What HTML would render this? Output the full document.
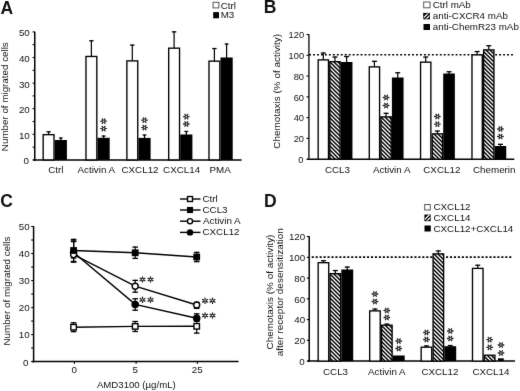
<!DOCTYPE html>
<html><head><meta charset="utf-8"><style>
html,body{margin:0;padding:0;background:#fff;width:520px;height:391px;overflow:hidden;}
svg{display:block;}
text{font-family:"Liberation Sans", sans-serif;fill:#111;stroke:none;}
</style></head><body>
<svg width="520" height="391" viewBox="0 0 520 391">
<defs>
<filter id="bl" filterUnits="userSpaceOnUse" x="0" y="0" width="520" height="391" color-interpolation-filters="sRGB"><feConvolveMatrix order="3" kernelMatrix="0.00524 0.06192 0.00524 0.06192 0.73137 0.06192 0.00524 0.06192 0.00524" edgeMode="duplicate" preserveAlpha="true"/></filter>
<pattern id="hatch" patternUnits="userSpaceOnUse" width="4" height="4">
<rect width="4" height="4" fill="#fff"/>
<path d="M-1,-1 L5,5 M-1,3 L1,5 M3,-1 L5,1" stroke="#000" stroke-width="1.45"/>
</pattern>
<pattern id="hatchL" patternUnits="userSpaceOnUse" width="3.2" height="3.2">
<rect width="3.2" height="3.2" fill="#000"/>
<path d="M-1,4.2 L4.2,-1 M-1,1 L1,-1 M2.2,4.2 L4.2,2.2" stroke="#fff" stroke-width="1.1"/>
</pattern>
</defs>
<g filter="url(#bl)">
<rect width="520" height="391" fill="#fff"/>
<text x="0.50" y="14.20" font-size="17.5" font-weight="bold">A</text>
<line x1="34.75" y1="31.70" x2="34.75" y2="160.65" stroke="#000" stroke-width="1.5" />
<line x1="33.15" y1="159.90" x2="241.60" y2="159.90" stroke="#000" stroke-width="1.5" />
<line x1="32.55" y1="159.90" x2="34.75" y2="159.90" stroke="#000" stroke-width="1.1" />
<line x1="32.55" y1="147.10" x2="34.75" y2="147.10" stroke="#000" stroke-width="1.1" />
<line x1="32.55" y1="134.30" x2="34.75" y2="134.30" stroke="#000" stroke-width="1.1" />
<line x1="32.55" y1="121.50" x2="34.75" y2="121.50" stroke="#000" stroke-width="1.1" />
<line x1="32.55" y1="108.70" x2="34.75" y2="108.70" stroke="#000" stroke-width="1.1" />
<line x1="32.55" y1="95.90" x2="34.75" y2="95.90" stroke="#000" stroke-width="1.1" />
<line x1="32.55" y1="83.10" x2="34.75" y2="83.10" stroke="#000" stroke-width="1.1" />
<line x1="32.55" y1="70.30" x2="34.75" y2="70.30" stroke="#000" stroke-width="1.1" />
<line x1="32.55" y1="57.50" x2="34.75" y2="57.50" stroke="#000" stroke-width="1.1" />
<line x1="32.55" y1="44.70" x2="34.75" y2="44.70" stroke="#000" stroke-width="1.1" />
<line x1="32.55" y1="31.90" x2="34.75" y2="31.90" stroke="#000" stroke-width="1.1" />
<text x="23.50" y="164.40" font-size="9.8" font-weight="normal">0</text>
<text x="18.90" y="138.80" font-size="9.8" font-weight="normal">10</text>
<text x="18.90" y="113.20" font-size="9.8" font-weight="normal">20</text>
<text x="18.90" y="87.60" font-size="9.8" font-weight="normal">30</text>
<text x="18.90" y="62.00" font-size="9.8" font-weight="normal">40</text>
<text x="18.90" y="36.40" font-size="9.8" font-weight="normal">50</text>
<text transform="translate(8.20,96.50) rotate(-90)" x="-54.65" y="0" font-size="9.8">Number of migrated cells</text>
<rect x="43.17" y="134.68" width="10.85" height="25.23" fill="#fff" stroke="#000" stroke-width="1.35"/>
<line x1="48.60" y1="134.50" x2="48.60" y2="131.30" stroke="#000" stroke-width="1.2" />
<line x1="46.40" y1="131.85" x2="50.80" y2="131.85" stroke="#000" stroke-width="1.3" />
<rect x="54.70" y="140.00" width="12.20" height="19.90" fill="#000"/>
<line x1="60.80" y1="140.50" x2="60.80" y2="137.50" stroke="#000" stroke-width="1.2" />
<line x1="58.90" y1="138.05" x2="62.70" y2="138.05" stroke="#000" stroke-width="1.3" />
<rect x="85.97" y="56.47" width="10.85" height="103.43" fill="#fff" stroke="#000" stroke-width="1.35"/>
<line x1="91.40" y1="56.30" x2="91.40" y2="40.20" stroke="#000" stroke-width="1.2" />
<line x1="89.20" y1="40.75" x2="93.60" y2="40.75" stroke="#000" stroke-width="1.3" />
<rect x="97.50" y="137.80" width="12.20" height="22.10" fill="#000"/>
<line x1="103.60" y1="138.30" x2="103.60" y2="135.50" stroke="#000" stroke-width="1.2" />
<line x1="101.70" y1="136.05" x2="105.50" y2="136.05" stroke="#000" stroke-width="1.3" />
<path d="M104.90,121.20L106.40,121.20M104.25,122.24L105.00,123.43M102.95,122.24L102.20,123.43M102.30,121.20L100.80,121.20M102.95,120.16L102.20,118.97M104.25,120.16L105.00,118.97" stroke="#1e1e1e" stroke-width="1.3" stroke-linecap="round" fill="none"/>
<path d="M104.90,128.60L106.40,128.60M104.25,129.64L105.00,130.83M102.95,129.64L102.20,130.83M102.30,128.60L100.80,128.60M102.95,127.56L102.20,126.37M104.25,127.56L105.00,126.37" stroke="#1e1e1e" stroke-width="1.3" stroke-linecap="round" fill="none"/>
<rect x="126.88" y="60.88" width="10.85" height="99.03" fill="#fff" stroke="#000" stroke-width="1.35"/>
<line x1="132.30" y1="60.70" x2="132.30" y2="44.60" stroke="#000" stroke-width="1.2" />
<line x1="130.10" y1="45.15" x2="134.50" y2="45.15" stroke="#000" stroke-width="1.3" />
<rect x="138.40" y="137.90" width="12.20" height="22.00" fill="#000"/>
<line x1="144.50" y1="138.40" x2="144.50" y2="134.50" stroke="#000" stroke-width="1.2" />
<line x1="142.60" y1="135.05" x2="146.40" y2="135.05" stroke="#000" stroke-width="1.3" />
<path d="M145.80,120.20L147.30,120.20M145.15,121.24L145.90,122.43M143.85,121.24L143.10,122.43M143.20,120.20L141.70,120.20M143.85,119.16L143.10,117.97M145.15,119.16L145.90,117.97" stroke="#1e1e1e" stroke-width="1.3" stroke-linecap="round" fill="none"/>
<path d="M145.80,127.60L147.30,127.60M145.15,128.64L145.90,129.83M143.85,128.64L143.10,129.83M143.20,127.60L141.70,127.60M143.85,126.56L143.10,125.37M145.15,126.56L145.90,125.37" stroke="#1e1e1e" stroke-width="1.3" stroke-linecap="round" fill="none"/>
<rect x="168.68" y="48.17" width="10.85" height="111.73" fill="#fff" stroke="#000" stroke-width="1.35"/>
<line x1="174.10" y1="48.00" x2="174.10" y2="31.30" stroke="#000" stroke-width="1.2" />
<line x1="171.90" y1="31.85" x2="176.30" y2="31.85" stroke="#000" stroke-width="1.3" />
<rect x="180.20" y="134.50" width="12.20" height="25.40" fill="#000"/>
<line x1="186.30" y1="135.00" x2="186.30" y2="130.90" stroke="#000" stroke-width="1.2" />
<line x1="184.40" y1="131.45" x2="188.20" y2="131.45" stroke="#000" stroke-width="1.3" />
<path d="M187.60,116.60L189.10,116.60M186.95,117.64L187.70,118.83M185.65,117.64L184.90,118.83M185.00,116.60L183.50,116.60M185.65,115.56L184.90,114.37M186.95,115.56L187.70,114.37" stroke="#1e1e1e" stroke-width="1.3" stroke-linecap="round" fill="none"/>
<path d="M187.60,124.00L189.10,124.00M186.95,125.04L187.70,126.23M185.65,125.04L184.90,126.23M185.00,124.00L183.50,124.00M185.65,122.96L184.90,121.77M186.95,122.96L187.70,121.77" stroke="#1e1e1e" stroke-width="1.3" stroke-linecap="round" fill="none"/>
<rect x="208.98" y="61.17" width="10.85" height="98.73" fill="#fff" stroke="#000" stroke-width="1.35"/>
<line x1="214.40" y1="61.00" x2="214.40" y2="48.00" stroke="#000" stroke-width="1.2" />
<line x1="212.20" y1="48.55" x2="216.60" y2="48.55" stroke="#000" stroke-width="1.3" />
<rect x="220.50" y="57.50" width="12.20" height="102.40" fill="#000"/>
<line x1="226.60" y1="58.00" x2="226.60" y2="43.50" stroke="#000" stroke-width="1.2" />
<line x1="224.70" y1="44.05" x2="228.50" y2="44.05" stroke="#000" stroke-width="1.3" />
<text x="48.20" y="172.90" font-size="9.8" font-weight="normal">Ctrl</text>
<text x="77.50" y="172.90" font-size="9.8" font-weight="normal">Activin A</text>
<text x="121.50" y="172.90" font-size="9.8" font-weight="normal">CXCL12</text>
<text x="163.10" y="172.90" font-size="9.8" font-weight="normal">CXCL14</text>
<text x="209.50" y="173.00" font-size="9.8" font-weight="normal">PMA</text>
<rect x="213.1" y="2.3" width="5.8" height="5.6" fill="#fff" stroke="#555" stroke-width="1"/>
<text x="220.80" y="8.70" font-size="9.8" font-weight="normal">Ctrl</text>
<rect x="213.2" y="12.1" width="5.8" height="6.2" fill="#000"/>
<text x="220.70" y="18.40" font-size="9.8" font-weight="normal">M3</text>
<text x="263.70" y="12.70" font-size="17.5" font-weight="bold">B</text>
<line x1="308.90" y1="34.22" x2="308.90" y2="158.50" stroke="#4a4a4a" stroke-width="1.8" />
<line x1="307.20" y1="159.20" x2="514.30" y2="159.20" stroke="#000" stroke-width="1.5" />
<line x1="306.50" y1="159.20" x2="308.90" y2="159.20" stroke="#000" stroke-width="1.1" />
<text x="298.20" y="163.00" font-size="9.3" font-weight="normal">0</text>
<line x1="306.50" y1="138.42" x2="308.90" y2="138.42" stroke="#000" stroke-width="1.1" />
<text x="293.70" y="142.22" font-size="9.3" font-weight="normal">20</text>
<line x1="306.50" y1="117.64" x2="308.90" y2="117.64" stroke="#000" stroke-width="1.1" />
<text x="293.70" y="121.44" font-size="9.3" font-weight="normal">40</text>
<line x1="306.50" y1="96.86" x2="308.90" y2="96.86" stroke="#000" stroke-width="1.1" />
<text x="293.70" y="100.66" font-size="9.3" font-weight="normal">60</text>
<line x1="306.50" y1="76.08" x2="308.90" y2="76.08" stroke="#000" stroke-width="1.1" />
<text x="293.70" y="79.88" font-size="9.3" font-weight="normal">80</text>
<line x1="306.50" y1="55.30" x2="308.90" y2="55.30" stroke="#000" stroke-width="1.1" />
<text x="288.60" y="59.10" font-size="9.3" font-weight="normal">100</text>
<line x1="306.50" y1="34.52" x2="308.90" y2="34.52" stroke="#000" stroke-width="1.1" />
<text x="288.60" y="38.32" font-size="9.3" font-weight="normal">120</text>
<line x1="309.10" y1="54.80" x2="514.00" y2="54.80" stroke="#000" stroke-width="1.5" stroke-dasharray="1.9,2.06"/>
<text transform="translate(280.20,91.00) rotate(-90)" x="-57.75" y="0" font-size="9.95">Chemotaxis (% of activity)</text>
<rect x="318.18" y="59.88" width="10.30" height="99.32" fill="#fff" stroke="#000" stroke-width="1.35"/>
<line x1="323.32" y1="59.70" x2="323.32" y2="52.50" stroke="#000" stroke-width="1.2" />
<line x1="320.82" y1="53.05" x2="325.82" y2="53.05" stroke="#000" stroke-width="1.3" />
<rect x="329.82" y="61.67" width="10.30" height="97.52" fill="url(#hatch)" stroke="#000" stroke-width="1.35"/>
<line x1="334.97" y1="61.50" x2="334.97" y2="56.50" stroke="#000" stroke-width="1.2" />
<line x1="332.47" y1="57.05" x2="337.47" y2="57.05" stroke="#000" stroke-width="1.3" />
<rect x="340.80" y="62.00" width="11.65" height="97.20" fill="#000"/>
<line x1="346.62" y1="62.50" x2="346.62" y2="56.00" stroke="#000" stroke-width="1.2" />
<line x1="344.12" y1="56.55" x2="349.12" y2="56.55" stroke="#000" stroke-width="1.3" />
<rect x="369.28" y="66.88" width="10.30" height="92.32" fill="#fff" stroke="#000" stroke-width="1.35"/>
<line x1="374.43" y1="66.70" x2="374.43" y2="60.80" stroke="#000" stroke-width="1.2" />
<line x1="371.93" y1="61.35" x2="376.93" y2="61.35" stroke="#000" stroke-width="1.3" />
<rect x="380.93" y="116.88" width="10.30" height="42.32" fill="url(#hatch)" stroke="#000" stroke-width="1.35"/>
<line x1="386.07" y1="116.70" x2="386.07" y2="112.80" stroke="#000" stroke-width="1.2" />
<line x1="383.57" y1="113.35" x2="388.57" y2="113.35" stroke="#000" stroke-width="1.3" />
<path d="M387.38,97.50L388.88,97.50M386.72,98.54L387.47,99.73M385.43,98.54L384.68,99.73M384.77,97.50L383.27,97.50M385.43,96.46L384.68,95.27M386.72,96.46L387.47,95.27" stroke="#1e1e1e" stroke-width="1.3" stroke-linecap="round" fill="none"/>
<path d="M387.38,105.50L388.88,105.50M386.72,106.54L387.47,107.73M385.43,106.54L384.68,107.73M384.77,105.50L383.27,105.50M385.43,104.46L384.68,103.27M386.72,104.46L387.47,103.27" stroke="#1e1e1e" stroke-width="1.3" stroke-linecap="round" fill="none"/>
<rect x="391.90" y="77.50" width="11.65" height="81.70" fill="#000"/>
<line x1="397.73" y1="78.00" x2="397.73" y2="72.20" stroke="#000" stroke-width="1.2" />
<line x1="395.23" y1="72.75" x2="400.23" y2="72.75" stroke="#000" stroke-width="1.3" />
<rect x="420.57" y="62.17" width="10.30" height="97.02" fill="#fff" stroke="#000" stroke-width="1.35"/>
<line x1="425.72" y1="62.00" x2="425.72" y2="56.50" stroke="#000" stroke-width="1.2" />
<line x1="423.22" y1="57.05" x2="428.22" y2="57.05" stroke="#000" stroke-width="1.3" />
<rect x="432.22" y="133.88" width="10.30" height="25.32" fill="url(#hatch)" stroke="#000" stroke-width="1.35"/>
<line x1="437.37" y1="133.70" x2="437.37" y2="130.50" stroke="#000" stroke-width="1.2" />
<line x1="434.87" y1="131.05" x2="439.87" y2="131.05" stroke="#000" stroke-width="1.3" />
<path d="M438.67,116.50L440.17,116.50M438.02,117.54L438.77,118.73M436.72,117.54L435.97,118.73M436.07,116.50L434.57,116.50M436.72,115.46L435.97,114.27M438.02,115.46L438.77,114.27" stroke="#1e1e1e" stroke-width="1.3" stroke-linecap="round" fill="none"/>
<path d="M438.67,124.20L440.17,124.20M438.02,125.24L438.77,126.43M436.72,125.24L435.97,126.43M436.07,124.20L434.57,124.20M436.72,123.16L435.97,121.97M438.02,123.16L438.77,121.97" stroke="#1e1e1e" stroke-width="1.3" stroke-linecap="round" fill="none"/>
<rect x="443.20" y="73.50" width="11.65" height="85.70" fill="#000"/>
<line x1="449.02" y1="74.00" x2="449.02" y2="71.20" stroke="#000" stroke-width="1.2" />
<line x1="446.52" y1="71.75" x2="451.52" y2="71.75" stroke="#000" stroke-width="1.3" />
<rect x="471.98" y="54.88" width="10.30" height="104.32" fill="#fff" stroke="#000" stroke-width="1.35"/>
<line x1="477.12" y1="54.70" x2="477.12" y2="51.00" stroke="#000" stroke-width="1.2" />
<line x1="474.62" y1="51.55" x2="479.62" y2="51.55" stroke="#000" stroke-width="1.3" />
<rect x="483.62" y="49.88" width="10.30" height="109.32" fill="url(#hatch)" stroke="#000" stroke-width="1.35"/>
<line x1="488.77" y1="49.70" x2="488.77" y2="45.20" stroke="#000" stroke-width="1.2" />
<line x1="486.27" y1="45.75" x2="491.27" y2="45.75" stroke="#000" stroke-width="1.3" />
<rect x="494.60" y="146.00" width="11.65" height="13.20" fill="#000"/>
<line x1="500.43" y1="146.50" x2="500.43" y2="143.80" stroke="#000" stroke-width="1.2" />
<line x1="497.93" y1="144.35" x2="502.93" y2="144.35" stroke="#000" stroke-width="1.3" />
<path d="M501.73,129.00L503.23,129.00M501.07,130.04L501.82,131.23M499.78,130.04L499.03,131.23M499.12,129.00L497.62,129.00M499.78,127.96L499.03,126.77M501.07,127.96L501.82,126.77" stroke="#1e1e1e" stroke-width="1.3" stroke-linecap="round" fill="none"/>
<path d="M501.73,136.50L503.23,136.50M501.07,137.54L501.82,138.73M499.78,137.54L499.03,138.73M499.12,136.50L497.62,136.50M499.78,135.46L499.03,134.27M501.07,135.46L501.82,134.27" stroke="#1e1e1e" stroke-width="1.3" stroke-linecap="round" fill="none"/>
<text x="324.90" y="173.20" font-size="9.8" font-weight="normal">CCL3</text>
<text x="372.90" y="173.20" font-size="9.8" font-weight="normal">Activin A</text>
<text x="423.30" y="173.20" font-size="9.8" font-weight="normal">CXCL12</text>
<text x="473.00" y="173.20" font-size="9.8" font-weight="normal">Chemerin</text>
<rect x="423.7" y="2.0" width="6.3" height="5.8" fill="#fff" stroke="#555" stroke-width="1"/>
<text x="432.70" y="7.90" font-size="9.8" font-weight="normal">Ctrl mAb</text>
<rect x="423.20" y="12.90" width="6.70" height="6.40" fill="#000"/>
<clipPath id="c4232129"><rect x="423.70" y="13.40" width="5.70" height="5.40"/></clipPath>
<path d="M421.02,20.30L429.42,11.90M424.76,20.30L433.16,11.90" stroke="#fff" stroke-width="1.25" clip-path="url(#c4232129)"/>
<text x="432.80" y="18.90" font-size="9.8" font-weight="normal">anti-CXCR4 mAb</text>
<rect x="423.5" y="24.0" width="6.5" height="6.0" fill="#000"/>
<text x="432.80" y="29.80" font-size="9.8" font-weight="normal">anti-ChemR23 mAb</text>
<text x="0.20" y="207.00" font-size="17.5" font-weight="bold">C</text>
<line x1="33.60" y1="226.20" x2="33.60" y2="362.35" stroke="#000" stroke-width="1.5" />
<line x1="31.80" y1="361.60" x2="238.60" y2="361.60" stroke="#000" stroke-width="1.5" />
<line x1="31.20" y1="361.60" x2="33.60" y2="361.60" stroke="#000" stroke-width="1.1" />
<line x1="31.20" y1="348.09" x2="33.60" y2="348.09" stroke="#000" stroke-width="1.1" />
<line x1="31.20" y1="334.58" x2="33.60" y2="334.58" stroke="#000" stroke-width="1.1" />
<line x1="31.20" y1="321.07" x2="33.60" y2="321.07" stroke="#000" stroke-width="1.1" />
<line x1="31.20" y1="307.56" x2="33.60" y2="307.56" stroke="#000" stroke-width="1.1" />
<line x1="31.20" y1="294.05" x2="33.60" y2="294.05" stroke="#000" stroke-width="1.1" />
<line x1="31.20" y1="280.54" x2="33.60" y2="280.54" stroke="#000" stroke-width="1.1" />
<line x1="31.20" y1="267.03" x2="33.60" y2="267.03" stroke="#000" stroke-width="1.1" />
<line x1="31.20" y1="253.52" x2="33.60" y2="253.52" stroke="#000" stroke-width="1.1" />
<line x1="31.20" y1="240.01" x2="33.60" y2="240.01" stroke="#000" stroke-width="1.1" />
<line x1="31.20" y1="226.50" x2="33.60" y2="226.50" stroke="#000" stroke-width="1.1" />
<text x="23.10" y="365.50" font-size="9.8" font-weight="normal">0</text>
<text x="18.70" y="338.48" font-size="9.8" font-weight="normal">10</text>
<text x="18.70" y="311.46" font-size="9.8" font-weight="normal">20</text>
<text x="18.70" y="284.44" font-size="9.8" font-weight="normal">30</text>
<text x="18.70" y="257.42" font-size="9.8" font-weight="normal">40</text>
<text x="18.70" y="230.40" font-size="9.8" font-weight="normal">50</text>
<text transform="translate(10.30,290.90) rotate(-90)" x="-54.65" y="0" font-size="9.8">Number of migrated cells</text>
<line x1="74.40" y1="361.60" x2="74.40" y2="363.80" stroke="#000" stroke-width="1.2" />
<text x="71.45" y="373.40" font-size="9.8" font-weight="normal">0</text>
<line x1="136.10" y1="361.60" x2="136.10" y2="363.80" stroke="#000" stroke-width="1.2" />
<text x="132.40" y="373.40" font-size="9.8" font-weight="normal">5</text>
<line x1="197.40" y1="361.60" x2="197.40" y2="363.80" stroke="#000" stroke-width="1.2" />
<text x="191.70" y="373.40" font-size="9.8" font-weight="normal">25</text>
<text x="96.90" y="387.80" font-size="9.65" font-weight="normal">AMD3100 (µg/mL)</text>
<polyline points="73.60,327.20 135.20,326.40 196.70,326.30" fill="none" stroke="#000" stroke-width="1.45"/>
<polyline points="73.60,250.50 135.20,252.80 196.70,257.00" fill="none" stroke="#000" stroke-width="1.45"/>
<polyline points="73.60,254.60 135.20,286.20 196.70,305.00" fill="none" stroke="#000" stroke-width="1.45"/>
<polyline points="73.60,252.50 135.20,304.40 196.70,318.20" fill="none" stroke="#000" stroke-width="1.45"/>
<line x1="73.60" y1="322.20" x2="73.60" y2="332.20" stroke="#000" stroke-width="1.2" />
<line x1="135.20" y1="320.90" x2="135.20" y2="332.10" stroke="#000" stroke-width="1.2" />
<line x1="196.70" y1="320.60" x2="196.70" y2="333.70" stroke="#000" stroke-width="1.2" />
<line x1="73.60" y1="238.80" x2="73.60" y2="262.80" stroke="#000" stroke-width="1.2" />
<line x1="135.20" y1="246.50" x2="135.20" y2="259.00" stroke="#000" stroke-width="1.2" />
<line x1="196.70" y1="251.80" x2="196.70" y2="262.20" stroke="#000" stroke-width="1.2" />
<line x1="73.60" y1="241.00" x2="73.60" y2="262.00" stroke="#000" stroke-width="1.2" />
<line x1="135.20" y1="279.80" x2="135.20" y2="292.80" stroke="#000" stroke-width="1.2" />
<line x1="196.70" y1="301.80" x2="196.70" y2="309.00" stroke="#000" stroke-width="1.2" />
<line x1="73.60" y1="240.30" x2="73.60" y2="258.60" stroke="#000" stroke-width="1.2" />
<line x1="135.20" y1="298.20" x2="135.20" y2="310.80" stroke="#000" stroke-width="1.2" />
<line x1="196.70" y1="313.20" x2="196.70" y2="321.80" stroke="#000" stroke-width="1.2" />
<circle cx="73.60" cy="252.50" r="3.75" fill="#000"/>
<circle cx="135.20" cy="304.40" r="3.75" fill="#000"/>
<circle cx="196.70" cy="318.20" r="3.75" fill="#000"/>
<circle cx="73.60" cy="254.60" r="3.00" fill="#fff" stroke="#000" stroke-width="1.4"/>
<circle cx="135.20" cy="286.20" r="3.00" fill="#fff" stroke="#000" stroke-width="1.4"/>
<circle cx="196.70" cy="305.00" r="3.00" fill="#fff" stroke="#000" stroke-width="1.4"/>
<rect x="70.85" y="324.45" width="5.50" height="5.50" fill="#fff" stroke="#000" stroke-width="1.4"/>
<rect x="132.45" y="323.65" width="5.50" height="5.50" fill="#fff" stroke="#000" stroke-width="1.4"/>
<rect x="193.95" y="323.55" width="5.50" height="5.50" fill="#fff" stroke="#000" stroke-width="1.4"/>
<rect x="70.20" y="247.10" width="6.80" height="6.80" fill="#000"/>
<rect x="131.80" y="249.40" width="6.80" height="6.80" fill="#000"/>
<rect x="193.30" y="253.60" width="6.80" height="6.80" fill="#000"/>
<line x1="70.80" y1="322.80" x2="76.40" y2="322.80" stroke="#000" stroke-width="1.3" />
<line x1="70.80" y1="331.60" x2="76.40" y2="331.60" stroke="#000" stroke-width="1.3" />
<line x1="132.40" y1="321.50" x2="138.00" y2="321.50" stroke="#000" stroke-width="1.3" />
<line x1="132.40" y1="331.50" x2="138.00" y2="331.50" stroke="#000" stroke-width="1.3" />
<line x1="193.90" y1="321.20" x2="199.50" y2="321.20" stroke="#000" stroke-width="1.3" />
<line x1="193.90" y1="333.10" x2="199.50" y2="333.10" stroke="#000" stroke-width="1.3" />
<line x1="70.80" y1="239.40" x2="76.40" y2="239.40" stroke="#000" stroke-width="1.3" />
<line x1="70.80" y1="262.20" x2="76.40" y2="262.20" stroke="#000" stroke-width="1.3" />
<line x1="132.40" y1="247.10" x2="138.00" y2="247.10" stroke="#000" stroke-width="1.3" />
<line x1="132.40" y1="258.40" x2="138.00" y2="258.40" stroke="#000" stroke-width="1.3" />
<line x1="193.90" y1="252.40" x2="199.50" y2="252.40" stroke="#000" stroke-width="1.3" />
<line x1="193.90" y1="261.60" x2="199.50" y2="261.60" stroke="#000" stroke-width="1.3" />
<line x1="70.80" y1="241.60" x2="76.40" y2="241.60" stroke="#000" stroke-width="1.3" />
<line x1="70.80" y1="261.40" x2="76.40" y2="261.40" stroke="#000" stroke-width="1.3" />
<line x1="132.40" y1="280.40" x2="138.00" y2="280.40" stroke="#000" stroke-width="1.3" />
<line x1="132.40" y1="292.20" x2="138.00" y2="292.20" stroke="#000" stroke-width="1.3" />
<line x1="193.90" y1="302.40" x2="199.50" y2="302.40" stroke="#000" stroke-width="1.3" />
<line x1="193.90" y1="308.40" x2="199.50" y2="308.40" stroke="#000" stroke-width="1.3" />
<line x1="70.80" y1="240.90" x2="76.40" y2="240.90" stroke="#000" stroke-width="1.3" />
<line x1="70.80" y1="258.00" x2="76.40" y2="258.00" stroke="#000" stroke-width="1.3" />
<line x1="132.40" y1="298.80" x2="138.00" y2="298.80" stroke="#000" stroke-width="1.3" />
<line x1="132.40" y1="310.20" x2="138.00" y2="310.20" stroke="#000" stroke-width="1.3" />
<line x1="193.90" y1="313.80" x2="199.50" y2="313.80" stroke="#000" stroke-width="1.3" />
<line x1="193.90" y1="321.20" x2="199.50" y2="321.20" stroke="#000" stroke-width="1.3" />
<path d="M142.50,280.70L142.50,282.08M141.37,280.10L140.08,280.79M141.37,278.90L140.08,278.21M142.50,278.30L142.50,276.92M143.63,278.90L144.92,278.21M143.63,280.10L144.92,280.79" stroke="#1e1e1e" stroke-width="1.3" stroke-linecap="round" fill="none"/>
<path d="M150.50,280.70L150.50,282.08M149.37,280.10L148.08,280.79M149.37,278.90L148.08,278.21M150.50,278.30L150.50,276.92M151.63,278.90L152.92,278.21M151.63,280.10L152.92,280.79" stroke="#1e1e1e" stroke-width="1.3" stroke-linecap="round" fill="none"/>
<path d="M142.50,301.00L142.50,302.38M141.37,300.40L140.08,301.09M141.37,299.20L140.08,298.51M142.50,298.60L142.50,297.22M143.63,299.20L144.92,298.51M143.63,300.40L144.92,301.09" stroke="#1e1e1e" stroke-width="1.3" stroke-linecap="round" fill="none"/>
<path d="M150.50,301.00L150.50,302.38M149.37,300.40L148.08,301.09M149.37,299.20L148.08,298.51M150.50,298.60L150.50,297.22M151.63,299.20L152.92,298.51M151.63,300.40L152.92,301.09" stroke="#1e1e1e" stroke-width="1.3" stroke-linecap="round" fill="none"/>
<path d="M205.00,302.00L205.00,303.38M203.87,301.40L202.58,302.09M203.87,300.20L202.58,299.51M205.00,299.60L205.00,298.22M206.13,300.20L207.42,299.51M206.13,301.40L207.42,302.09" stroke="#1e1e1e" stroke-width="1.3" stroke-linecap="round" fill="none"/>
<path d="M212.50,302.00L212.50,303.38M211.37,301.40L210.08,302.09M211.37,300.20L210.08,299.51M212.50,299.60L212.50,298.22M213.63,300.20L214.92,299.51M213.63,301.40L214.92,302.09" stroke="#1e1e1e" stroke-width="1.3" stroke-linecap="round" fill="none"/>
<path d="M205.00,316.70L205.00,318.08M203.87,316.10L202.58,316.79M203.87,314.90L202.58,314.21M205.00,314.30L205.00,312.92M206.13,314.90L207.42,314.21M206.13,316.10L207.42,316.79" stroke="#1e1e1e" stroke-width="1.3" stroke-linecap="round" fill="none"/>
<path d="M212.50,316.70L212.50,318.08M211.37,316.10L210.08,316.79M211.37,314.90L210.08,314.21M212.50,314.30L212.50,312.92M213.63,314.90L214.92,314.21M213.63,316.10L214.92,316.79" stroke="#1e1e1e" stroke-width="1.3" stroke-linecap="round" fill="none"/>
<line x1="180.00" y1="199.00" x2="200.50" y2="199.00" stroke="#000" stroke-width="1.4" />
<rect x="187.53" y="196.53" width="4.95" height="4.95" fill="#fff" stroke="#000" stroke-width="1.4"/>
<text x="202.50" y="201.80" font-size="9.8" font-weight="normal">Ctrl</text>
<line x1="180.00" y1="210.00" x2="200.50" y2="210.00" stroke="#000" stroke-width="1.4" />
<rect x="186.94" y="206.94" width="6.12" height="6.12" fill="#000"/>
<text x="202.50" y="212.80" font-size="9.8" font-weight="normal">CCL3</text>
<line x1="180.00" y1="221.20" x2="200.50" y2="221.20" stroke="#000" stroke-width="1.4" />
<circle cx="190.00" cy="221.20" r="2.55" fill="#fff" stroke="#000" stroke-width="1.4"/>
<text x="203.00" y="224.00" font-size="9.8" font-weight="normal">Activin A</text>
<line x1="180.00" y1="232.40" x2="200.50" y2="232.40" stroke="#000" stroke-width="1.4" />
<circle cx="190.00" cy="232.40" r="3.19" fill="#000"/>
<text x="202.50" y="235.20" font-size="9.8" font-weight="normal">CXCL12</text>
<text x="264.00" y="206.50" font-size="17.5" font-weight="bold">D</text>
<line x1="309.20" y1="236.24" x2="309.20" y2="361.85" stroke="#000" stroke-width="1.5" />
<line x1="307.50" y1="361.10" x2="515.00" y2="361.10" stroke="#000" stroke-width="1.5" />
<line x1="306.80" y1="361.10" x2="309.20" y2="361.10" stroke="#000" stroke-width="1.1" />
<text x="299.20" y="364.80" font-size="9.8" font-weight="normal">0</text>
<line x1="306.80" y1="340.34" x2="309.20" y2="340.34" stroke="#000" stroke-width="1.1" />
<text x="294.30" y="344.04" font-size="9.8" font-weight="normal">20</text>
<line x1="306.80" y1="319.58" x2="309.20" y2="319.58" stroke="#000" stroke-width="1.1" />
<text x="294.30" y="323.28" font-size="9.8" font-weight="normal">40</text>
<line x1="306.80" y1="298.82" x2="309.20" y2="298.82" stroke="#000" stroke-width="1.1" />
<text x="294.30" y="302.52" font-size="9.8" font-weight="normal">60</text>
<line x1="306.80" y1="278.06" x2="309.20" y2="278.06" stroke="#000" stroke-width="1.1" />
<text x="294.30" y="281.76" font-size="9.8" font-weight="normal">80</text>
<line x1="306.80" y1="257.30" x2="309.20" y2="257.30" stroke="#000" stroke-width="1.1" />
<text x="288.90" y="261.00" font-size="9.8" font-weight="normal">100</text>
<line x1="306.80" y1="236.54" x2="309.20" y2="236.54" stroke="#000" stroke-width="1.1" />
<text x="288.90" y="240.24" font-size="9.8" font-weight="normal">120</text>
<line x1="311.70" y1="257.10" x2="512.00" y2="257.10" stroke="#000" stroke-width="1.6" stroke-dasharray="2.1,1.85"/>
<text transform="translate(273.20,291.70) rotate(-90)" x="-57.75" y="0" font-size="9.95">Chemotaxis (% of activity)</text>
<text transform="translate(283.00,292.20) rotate(-90)" x="-64.05" y="0" font-size="9.98">after receptor desensitization</text>
<rect x="318.18" y="262.68" width="10.55" height="98.43" fill="#fff" stroke="#000" stroke-width="1.35"/>
<line x1="323.45" y1="262.50" x2="323.45" y2="260.20" stroke="#000" stroke-width="1.2" />
<line x1="320.95" y1="260.75" x2="325.95" y2="260.75" stroke="#000" stroke-width="1.3" />
<rect x="330.07" y="273.68" width="10.55" height="87.43" fill="url(#hatch)" stroke="#000" stroke-width="1.35"/>
<line x1="335.35" y1="273.50" x2="335.35" y2="270.00" stroke="#000" stroke-width="1.2" />
<line x1="332.85" y1="270.55" x2="337.85" y2="270.55" stroke="#000" stroke-width="1.3" />
<rect x="341.30" y="269.50" width="11.90" height="91.60" fill="#000"/>
<line x1="347.25" y1="270.00" x2="347.25" y2="266.50" stroke="#000" stroke-width="1.2" />
<line x1="344.75" y1="267.05" x2="349.75" y2="267.05" stroke="#000" stroke-width="1.3" />
<rect x="369.68" y="310.88" width="10.55" height="50.23" fill="#fff" stroke="#000" stroke-width="1.35"/>
<line x1="374.95" y1="310.70" x2="374.95" y2="308.50" stroke="#000" stroke-width="1.2" />
<line x1="372.45" y1="309.05" x2="377.45" y2="309.05" stroke="#000" stroke-width="1.3" />
<path d="M376.25,294.00L377.75,294.00M375.60,295.04L376.35,296.23M374.30,295.04L373.55,296.23M373.65,294.00L372.15,294.00M374.30,292.96L373.55,291.77M375.60,292.96L376.35,291.77" stroke="#1e1e1e" stroke-width="1.3" stroke-linecap="round" fill="none"/>
<path d="M376.25,301.50L377.75,301.50M375.60,302.54L376.35,303.73M374.30,302.54L373.55,303.73M373.65,301.50L372.15,301.50M374.30,300.46L373.55,299.27M375.60,300.46L376.35,299.27" stroke="#1e1e1e" stroke-width="1.3" stroke-linecap="round" fill="none"/>
<rect x="381.57" y="325.18" width="10.55" height="35.93" fill="url(#hatch)" stroke="#000" stroke-width="1.35"/>
<line x1="386.85" y1="325.00" x2="386.85" y2="323.60" stroke="#000" stroke-width="1.2" />
<line x1="384.35" y1="324.15" x2="389.35" y2="324.15" stroke="#000" stroke-width="1.3" />
<path d="M388.15,310.50L389.65,310.50M387.50,311.54L388.25,312.73M386.20,311.54L385.45,312.73M385.55,310.50L384.05,310.50M386.20,309.46L385.45,308.27M387.50,309.46L388.25,308.27" stroke="#1e1e1e" stroke-width="1.3" stroke-linecap="round" fill="none"/>
<path d="M388.15,317.50L389.65,317.50M387.50,318.54L388.25,319.73M386.20,318.54L385.45,319.73M385.55,317.50L384.05,317.50M386.20,316.46L385.45,315.27M387.50,316.46L388.25,315.27" stroke="#1e1e1e" stroke-width="1.3" stroke-linecap="round" fill="none"/>
<rect x="392.80" y="355.50" width="11.90" height="5.60" fill="#000"/>
<path d="M400.05,341.00L401.55,341.00M399.40,342.04L400.15,343.23M398.10,342.04L397.35,343.23M397.45,341.00L395.95,341.00M398.10,339.96L397.35,338.77M399.40,339.96L400.15,338.77" stroke="#1e1e1e" stroke-width="1.3" stroke-linecap="round" fill="none"/>
<path d="M400.05,348.50L401.55,348.50M399.40,349.54L400.15,350.73M398.10,349.54L397.35,350.73M397.45,348.50L395.95,348.50M398.10,347.46L397.35,346.27M399.40,347.46L400.15,346.27" stroke="#1e1e1e" stroke-width="1.3" stroke-linecap="round" fill="none"/>
<rect x="421.18" y="347.18" width="10.55" height="13.93" fill="#fff" stroke="#000" stroke-width="1.35"/>
<line x1="426.45" y1="347.00" x2="426.45" y2="345.40" stroke="#000" stroke-width="1.2" />
<line x1="423.95" y1="345.95" x2="428.95" y2="345.95" stroke="#000" stroke-width="1.3" />
<path d="M427.75,332.50L429.25,332.50M427.10,333.54L427.85,334.73M425.80,333.54L425.05,334.73M425.15,332.50L423.65,332.50M425.80,331.46L425.05,330.27M427.10,331.46L427.85,330.27" stroke="#1e1e1e" stroke-width="1.3" stroke-linecap="round" fill="none"/>
<path d="M427.75,339.50L429.25,339.50M427.10,340.54L427.85,341.73M425.80,340.54L425.05,341.73M425.15,339.50L423.65,339.50M425.80,338.46L425.05,337.27M427.10,338.46L427.85,337.27" stroke="#1e1e1e" stroke-width="1.3" stroke-linecap="round" fill="none"/>
<rect x="433.07" y="253.88" width="10.55" height="107.23" fill="url(#hatch)" stroke="#000" stroke-width="1.35"/>
<line x1="438.35" y1="253.70" x2="438.35" y2="250.40" stroke="#000" stroke-width="1.2" />
<line x1="435.85" y1="250.95" x2="440.85" y2="250.95" stroke="#000" stroke-width="1.3" />
<rect x="444.30" y="346.20" width="11.90" height="14.90" fill="#000"/>
<line x1="450.25" y1="346.70" x2="450.25" y2="345.00" stroke="#000" stroke-width="1.2" />
<line x1="447.75" y1="345.55" x2="452.75" y2="345.55" stroke="#000" stroke-width="1.3" />
<path d="M451.55,331.00L453.05,331.00M450.90,332.04L451.65,333.23M449.60,332.04L448.85,333.23M448.95,331.00L447.45,331.00M449.60,329.96L448.85,328.77M450.90,329.96L451.65,328.77" stroke="#1e1e1e" stroke-width="1.3" stroke-linecap="round" fill="none"/>
<path d="M451.55,338.50L453.05,338.50M450.90,339.54L451.65,340.73M449.60,339.54L448.85,340.73M448.95,338.50L447.45,338.50M449.60,337.46L448.85,336.27M450.90,337.46L451.65,336.27" stroke="#1e1e1e" stroke-width="1.3" stroke-linecap="round" fill="none"/>
<rect x="472.48" y="268.38" width="10.55" height="92.73" fill="#fff" stroke="#000" stroke-width="1.35"/>
<line x1="477.75" y1="268.20" x2="477.75" y2="264.70" stroke="#000" stroke-width="1.2" />
<line x1="475.25" y1="265.25" x2="480.25" y2="265.25" stroke="#000" stroke-width="1.3" />
<rect x="484.38" y="355.18" width="10.55" height="5.93" fill="url(#hatch)" stroke="#000" stroke-width="1.35"/>
<path d="M490.95,339.60L492.45,339.60M490.30,340.64L491.05,341.83M489.00,340.64L488.25,341.83M488.35,339.60L486.85,339.60M489.00,338.56L488.25,337.37M490.30,338.56L491.05,337.37" stroke="#1e1e1e" stroke-width="1.3" stroke-linecap="round" fill="none"/>
<path d="M490.95,347.40L492.45,347.40M490.30,348.44L491.05,349.63M489.00,348.44L488.25,349.63M488.35,347.40L486.85,347.40M489.00,346.36L488.25,345.17M490.30,346.36L491.05,345.17" stroke="#1e1e1e" stroke-width="1.3" stroke-linecap="round" fill="none"/>
<rect x="498" y="358.3" width="5.8" height="2.80" fill="#000"/>
<path d="M502.30,345.00L503.80,345.00M501.65,346.04L502.40,347.23M500.35,346.04L499.60,347.23M499.70,345.00L498.20,345.00M500.35,343.96L499.60,342.77M501.65,343.96L502.40,342.77" stroke="#1e1e1e" stroke-width="1.3" stroke-linecap="round" fill="none"/>
<path d="M502.30,353.00L503.80,353.00M501.65,354.04L502.40,355.23M500.35,354.04L499.60,355.23M499.70,353.00L498.20,353.00M500.35,351.96L499.60,350.77M501.65,351.96L502.40,350.77" stroke="#1e1e1e" stroke-width="1.3" stroke-linecap="round" fill="none"/>
<text x="323.00" y="374.80" font-size="9.8" font-weight="normal">CCL3</text>
<text x="368.00" y="374.80" font-size="9.8" font-weight="normal">Activin A</text>
<text x="421.40" y="374.80" font-size="9.8" font-weight="normal">CXCL12</text>
<text x="472.40" y="374.80" font-size="9.8" font-weight="normal">CXCL14</text>
<rect x="424.7" y="204.5" width="5.6" height="5.5" fill="#fff" stroke="#555" stroke-width="1"/>
<text x="433.50" y="210.40" font-size="9.8" font-weight="normal">CXCL12</text>
<rect x="424.40" y="214.60" width="6.30" height="6.60" fill="#000"/>
<clipPath id="c42442146"><rect x="424.90" y="215.10" width="5.30" height="5.60"/></clipPath>
<path d="M421.94,222.20L430.54,213.60M425.63,222.20L434.23,213.60" stroke="#fff" stroke-width="1.25" clip-path="url(#c42442146)"/>
<text x="433.50" y="221.20" font-size="9.8" font-weight="normal">CXCL14</text>
<rect x="424.5" y="225.5" width="6.3" height="6.0" fill="#000"/>
<text x="433.50" y="231.90" font-size="9.8" font-weight="normal">CXCL12+CXCL14</text>
</g>
</svg>
</body></html>
